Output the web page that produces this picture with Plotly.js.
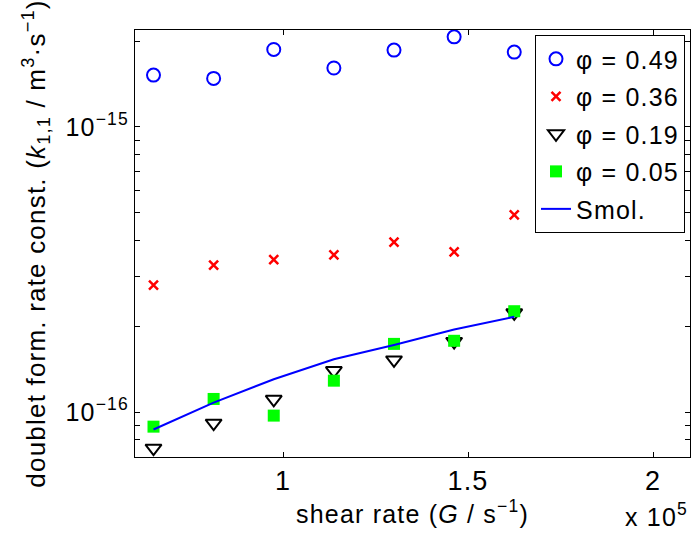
<!DOCTYPE html>
<html><head><meta charset="utf-8">
<script src="https://cdn.plot.ly/plotly-3.0.1.min.js"></script>
<style>html,body{margin:0;padding:0;background:#fff}#chart{width:691px;height:537px}
svg text{letter-spacing:1.2px}</style>
</head><body><div id="chart"></div>
<script>
const shearRate = [65000, 81250, 97500, 113750, 130000, 146250, 162500];
const phi049 = [1.52e-15, 1.48e-15, 1.87e-15, 1.61e-15, 1.86e-15, 2.07e-15, 1.83e-15];
const phi036 = [2.79e-16, 3.28e-16, 3.43e-16, 3.56e-16, 3.95e-16, 3.65e-16, 4.92e-16];
const phi019 = [7.48e-17, 9.15e-17, 1.11e-16, 1.40e-16, 1.525e-16, 1.77e-16, 2.23e-16];
const phi005 = [8.9e-17, 1.113e-16, 9.73e-17, 1.29e-16, 1.736e-16, 1.78e-16, 2.26e-16];
const smol   = [8.7e-17, 1.08e-16, 1.305e-16, 1.534e-16, 1.72e-16, 1.95e-16, 2.16e-16];
const seriesNames = ['\u03C6 = 0.49', '\u03C6 = 0.36', '\u03C6 = 0.19', '\u03C6 = 0.05', 'Smol.'];
const xTickVals = [100000, 150000, 200000];
const xTickText = ['1', '1.5', '2'];

const yTickVals = [], yTickText = [];
[-17, -16, -15].forEach(e => {
  for (let m = 1; m <= 9; m++) {
    yTickVals.push(m * Math.pow(10, e));
    yTickText.push(m === 1 ? '10<sup>\u2212' + (-e) + '</sup>' : '');
  }
});

const F = 'Liberation Sans, Arial, sans-serif';
const FS = 25;
const traces = [
  {x: shearRate, y: phi049, name: seriesNames[0], mode: 'markers', legendgroup: 'a',
   marker: {symbol: 'circle-open', size: 13, color: '#0000ff', line: {width: 2, color: '#0000ff'}}},
  {x: shearRate, y: phi036, name: seriesNames[1], mode: 'markers', legendgroup: 'b',
   marker: {symbol: 'x-thin-open', size: 9, color: '#ff0000', line: {width: 2.5, color: '#ff0000'}}},
  {x: shearRate, y: phi019, name: seriesNames[2], mode: 'markers', legendgroup: 'c',
   marker: {symbol: 'triangle-down-open', size: 14, color: '#000000', line: {width: 2, color: '#000000'}}},
  {x: shearRate, y: phi005, name: seriesNames[3], mode: 'markers', legendgroup: 'd',
   marker: {symbol: 'square', size: 12, color: '#00ff00', line: {width: 0}}},
  {x: shearRate, y: smol, name: seriesNames[4], mode: 'lines', legendgroup: 'e',
   line: {color: '#0000ff', width: 2}}
];

const layout = {
  width: 691, height: 537,
  margin: {l: 135, r: 1, t: 30, b: 80},
  paper_bgcolor: '#fff', plot_bgcolor: '#fff',
  font: {family: F, size: FS, color: '#000'},
  showlegend: true,
  legend: {x: 0.991, y: 0.988, xanchor: 'right', yanchor: 'top', bgcolor: '#fff',
           bordercolor: '#000', borderwidth: 1, font: {family: F, size: 25, color: '#000'},
           traceorder: 'grouped', tracegroupgap: 2},
  xaxis: {type: 'linear', range: [60000, 210000], tickvals: xTickVals, ticktext: xTickText,
          ticks: 'inside', ticklen: 5, tickcolor: '#000', showline: true, linecolor: '#000', linewidth: 1,
          mirror: 'ticks', showgrid: false, zeroline: false, tickfont: {family: F, size: 27},
          title: {text: 'shear rate (<i>G</i> / s<sup>\u22121</sup>)', font: {family: F, size: FS}, standoff: 0}},
  yaxis: {type: 'log', range: [-16.157, -14.66], tickvals: yTickVals, ticktext: yTickText,
          ticks: 'inside', ticklen: 5, tickcolor: '#000', showline: true, linecolor: '#000', linewidth: 1,
          mirror: 'ticks', showgrid: false, zeroline: false, tickfont: {family: F, size: FS},
          title: {text: 'doublet form. rate const. (<i>k</i><sub>1,1</sub> / m<sup>3</sup>\u00B7s<sup>\u22121</sup>)',
                  font: {family: F, size: 26}, standoff: 12}},
  annotations: [{xref: 'paper', yref: 'paper', x: 1.0, y: -0.178, xanchor: 'right', yanchor: 'bottom',
                 showarrow: false, text: 'x 10<sup>5</sup>', font: {family: F, size: FS, color: '#000'}}]
};
Plotly.newPlot('chart', traces, layout, {displayModeBar: false, staticPlot: true});
</script></body></html>
